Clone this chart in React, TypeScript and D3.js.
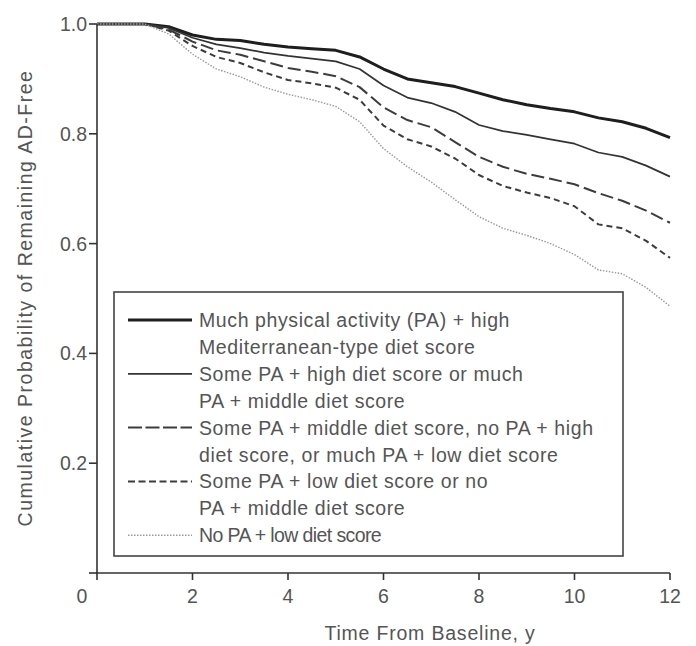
import React from 'react';
import * as d3 from 'd3';

const times = [0, 1, 1.5, 2, 2.5, 3, 3.5, 4, 4.5, 5, 5.5, 6, 6.5, 7, 7.5, 8, 8.5, 9, 9.5, 10, 10.5, 11, 11.5, 12];

const muchPaHighDiet = [1, 1, 0.995, 0.98, 0.972, 0.97, 0.963, 0.958, 0.955, 0.952, 0.94, 0.918, 0.9, 0.893, 0.886, 0.874, 0.862, 0.853, 0.846, 0.84, 0.829, 0.822, 0.81, 0.793];
const somePaHighDiet = [1, 1, 0.993, 0.975, 0.963, 0.956, 0.948, 0.942, 0.937, 0.932, 0.918, 0.888, 0.866, 0.856, 0.84, 0.816, 0.805, 0.798, 0.79, 0.782, 0.766, 0.758, 0.742, 0.722];
const somePaMiddleDiet = [1, 1, 0.99, 0.968, 0.952, 0.944, 0.932, 0.92, 0.913, 0.905, 0.885, 0.848, 0.825, 0.812, 0.785, 0.758, 0.74, 0.727, 0.718, 0.708, 0.692, 0.678, 0.66, 0.638];
const somePaLowDiet = [1, 1, 0.988, 0.96, 0.94, 0.929, 0.912, 0.898, 0.892, 0.884, 0.862, 0.815, 0.79, 0.777, 0.755, 0.725, 0.705, 0.693, 0.683, 0.668, 0.635, 0.628, 0.605, 0.574];
const noPaLowDiet = [1, 1, 0.982, 0.945, 0.918, 0.904, 0.885, 0.872, 0.862, 0.85, 0.822, 0.773, 0.74, 0.712, 0.68, 0.649, 0.628, 0.615, 0.6, 0.58, 0.552, 0.545, 0.52, 0.486];

const xTicks = [2, 4, 6, 8, 10, 12];
const yTicks = [0.2, 0.4, 0.6, 0.8, 1.0];

const legendLines = [
  'Much physical activity (PA) + high',
  'Mediterranean-type diet score',
  'Some PA + high diet score or much',
  'PA + middle diet score',
  'Some PA + middle diet score, no PA + high',
  'diet score, or much PA + low diet score',
  'Some PA + low diet score or no',
  'PA + middle diet score',
  'No PA + low diet score',
];

// which text line each series' sample sits on
const legendRows = [0, 2, 4, 6, 8];

const styles = [
  { stroke: '#1e1e1e', width: 3, dash: null },
  { stroke: '#333', width: 1.7, dash: null },
  { stroke: '#3c3c3c', width: 2, dash: '13,5' },
  { stroke: '#3c3c3c', width: 2, dash: '6,4' },
  { stroke: '#999', width: 1.4, dash: '1.5,1.5' },
];

const series = [muchPaHighDiet, somePaHighDiet, somePaMiddleDiet, somePaLowDiet, noPaLowDiet];

const font = '"Liberation Sans", Arial, sans-serif';
const textColor = '#555';

export default function App() {
  const x = d3.scaleLinear().domain([0, 12]).range([97, 670]);
  const y = d3.scaleLinear().domain([0, 1]).range([573, 24]);

  const line = d3.line<number>()
    .x((d, i) => x(times[i]))
    .y((d) => y(d));

  const legend = { x: 114, y: 292, w: 509, h: 264 };
  const rowY = (i: number) => 320 + i * 26.9;

  return (
    <div style={{ position: 'absolute', left: 0, top: 0 }}>
      <svg width={696} height={646} style={{ display: 'block', background: '#fff' }}>
        {/* curves */}
        {series.map((s, i) => (
          <path
            key={i}
            d={line(s) || ''}
            fill="none"
            stroke={styles[i].stroke}
            strokeWidth={styles[i].width}
            strokeDasharray={styles[i].dash || undefined}
            strokeLinejoin="round"
          />
        ))}

        {/* axes */}
        <g stroke="#333" strokeWidth={1.6}>
          <line x1={x(0)} x2={x(0)} y1={y(0)} y2={y(1)} />
          <line x1={x(0) - 1} x2={x(12)} y1={y(0)} y2={y(0)} />
          {[0, ...yTicks].map((t) => (
            <line key={'yt' + t} x1={x(0) - 8} x2={x(0)} y1={y(t)} y2={y(t)} />
          ))}
          {[0, ...xTicks].map((t) => (
            <line key={'xt' + t} x1={x(t)} x2={x(t)} y1={y(0)} y2={y(0) + 7} />
          ))}
        </g>

        <g fontFamily={font} fontSize={19.5} fill={textColor}>
          {yTicks.map((t) => (
            <text key={'yl' + t} x={x(0) - 10} y={y(t)} textAnchor="end" dominantBaseline="central">
              {t.toFixed(1)}
            </text>
          ))}
          <text x={x(0) - 15} y={596} textAnchor="middle" dominantBaseline="central">0</text>
          {xTicks.map((t) => (
            <text key={'xl' + t} x={x(t)} y={596} textAnchor="middle" dominantBaseline="central">
              {t}
            </text>
          ))}
          <text x={430} y={633} textAnchor="middle" dominantBaseline="central" letterSpacing={0.8}>
            Time From Baseline, y
          </text>
          <text
            transform="translate(25,298) rotate(-90)"
            textAnchor="middle"
            dominantBaseline="central"
            letterSpacing={1.5}
          >
            Cumulative Probability of Remaining AD-Free
          </text>
        </g>

        {/* legend */}
        <rect x={legend.x} y={legend.y} width={legend.w} height={legend.h} fill="#fff" stroke="#444" strokeWidth={1.6} />
        {legendRows.map((r, i) => (
          <line
            key={'ll' + i}
            x1={128}
            x2={192}
            y1={rowY(r)}
            y2={rowY(r)}
            stroke={styles[i].stroke}
            strokeWidth={i === 0 ? 3 : styles[i].width}
            strokeDasharray={i === 2 ? '14,3.5' : i === 3 ? '7,3.5' : styles[i].dash || undefined}
          />
        ))}
        <g fontFamily={font} fontSize={19.5} fill={textColor}>
          {legendLines.map((t, i) => (
            <text key={'lt' + i} x={199} y={rowY(i)} dominantBaseline="central" letterSpacing={i === 8 ? -0.6 : 0.6}>
              {t}
            </text>
          ))}
        </g>
      </svg>
    </div>
  );
}
